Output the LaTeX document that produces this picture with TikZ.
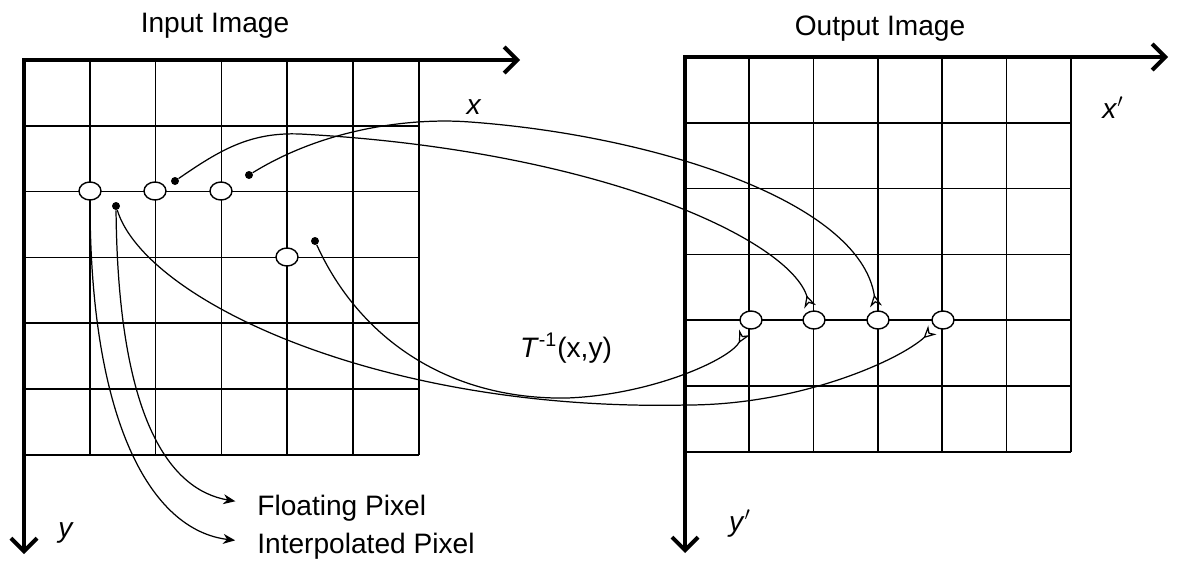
\documentclass[tikz,border=0pt]{standalone}
\usepackage{fontspec}
\setmainfont{Liberation Sans}
\usetikzlibrary{arrows.meta, shapes.geometric}

\begin{document}
\begin{tikzpicture}[x=0.02cm, y=-0.02cm,
  axis/.style={line width=2.3pt, line join=miter,
    {Straight Barb[length=2.6mm, width=5.2mm]}-{Straight Barb[length=2.6mm, width=5.2mm]}},
  gridline/.style={line width=1pt},
  pix/.style={draw, ellipse, fill=white, line width=0.8pt,
    minimum width=0.44cm, minimum height=0.36cm, inner sep=0pt},
  fpix/.style={circle, fill=black, minimum size=0.16cm, inner sep=0pt},
  map/.style={line width=0.7pt, shorten >=0.8mm,
    -{Stealth[open, reversed, length=2.4mm, width=2.4mm]}},
  lead/.style={line width=0.7pt, -{Stealth[length=2.4mm, width=2mm]}, shorten >=4.4mm},
  lbl/.style={font=\fontsize{16}{19}\selectfont, inner sep=0pt},
  key/.style={lbl, text height=11.5pt, text depth=0pt, anchor=west},
  ]
  \useasboundingbox (0,0) rectangle (1186,561);
  % grade de entrada
  \foreach \i in {1,...,6}
    \draw[gridline] ({24+65.8*\i},60) -- ({24+65.8*\i},455);
  \foreach \j in {1,...,6}
    \draw[gridline] (24,{60+65.8*\j}) -- (419,{60+65.8*\j});
  \draw[axis] (520,60) -- (24,60) -- (24,554);
  % grade de saida
  \foreach \i in {1,...,6}
    \draw[gridline] ({685+64.3*\i},57) -- ({685+64.3*\i},452);
  \foreach \j in {1,...,6}
    \draw[gridline] (685,{57+65.8*\j}) -- (1071,{57+65.8*\j});
  \draw[axis] (1168,57) -- (685,57) -- (685,553);
  % titulos e eixos
  \node[lbl, anchor=base] (tin) at (215,32) {Input Image};
  \node[lbl, anchor=base] (tout) at (880,35) {Output Image};
  \node[lbl] (xin) at (474,107) {\textit{x}};
  \node[lbl] (yin) at (66,533) {\textit{y}};
  \node[lbl] (xout) at (1113,108) {\textit{x}$'$};
  \node[lbl] (yout) at (740,524) {\textit{y}$'$};
  \node[lbl] (tinv) at (566,348) {\textit{T}\textsuperscript{-1}(x,y)};
  % pixels de entrada
  \node[pix] (i1) at (90,191) {};
  \node[pix] (i2) at (155,191) {};
  \node[pix] (i3) at (221,191) {};
  \node[pix] (i4) at (287,257) {};
  \node[fpix] (f1) at (116,206) {};
  \node[fpix] (f2) at (175,181) {};
  \node[fpix] (f3) at (249,175) {};
  \node[fpix] (f4) at (315,241) {};
  % pixels de saida
  \node[pix] (o1) at (751,320) {};
  \node[pix] (o2) at (814,320) {};
  \node[pix] (o3) at (878,320) {};
  \node[pix] (o4) at (943,320) {};
  % legenda
  \node[key] (fl) at (257,505) {Floating Pixel};
  \node[key] (il) at (257,543) {Interpolated Pixel};
  \draw[lead] (f1) .. controls (118,420) and (170,490) .. (fl.west);
  \draw[lead] (i1) .. controls (90,420) and (150,530) .. (il.west);
  % mapeamento inverso
  \draw[map] (f2) .. controls (220,150) and (250,132) .. (300,134)
    .. controls (600,150) and (790,240) .. (o2);
  \draw[map] (f3) .. controls (330,125) and (420,118) .. (470,122)
    .. controls (650,135) and (860,200) .. (o3);
  \draw[map] (f1) .. controls (145,300) and (380,412) .. (687,405)
    .. controls (800,405) and (900,360) .. (o4);
  \draw[map] (f4) .. controls (360,340) and (450,400) .. (567,398)
    .. controls (650,395) and (730,360) .. (o1);
\end{tikzpicture}
\end{document}
